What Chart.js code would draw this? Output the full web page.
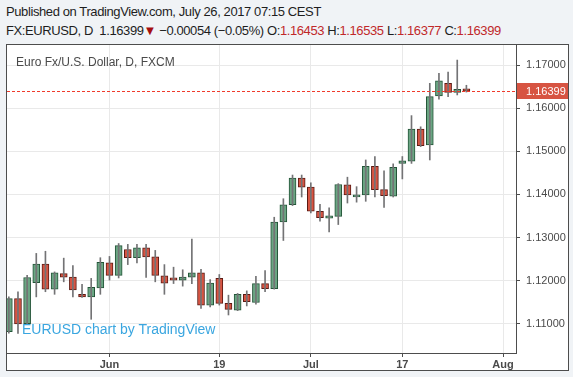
<!DOCTYPE html>
<html>
<head>
<meta charset="utf-8">
<script src="https://cdn.jsdelivr.net/npm/chart.js@4.4.1/dist/chart.umd.min.js"></script>
<style>
  body { margin: 0; width: 573px; height: 377px; background: #f0f3f6; position: relative; overflow: hidden;
         font-family: "Liberation Sans", Arial, sans-serif; }
  .hdr { position: absolute; left: 6px; font-size: 13px; color: #1e1e1e; white-space: nowrap; letter-spacing: -0.4px; }
  #hdr1 { top: 4px; }
  #hdr2 { top: 23px; }
  .red { color: #c0282a; }
  #frame { position: absolute; left: 6px; top: 44px; width: 563px; height: 327px; box-sizing: border-box;
           border: 1px solid #4d4d4d; background: #fff; }
  #frame canvas { display: block; }
  #legend { position: absolute; left: 16px; top: 55px; font-size: 12px; color: #4a4a4a; }
  #brand { position: absolute; left: 22px; top: 321px; font-size: 14px; color: #3aa6e0; }
</style>
</head>
<body>
<div id="hdr1" class="hdr">Published on TradingView.com, July 26, 2017 07:15 CEST</div>
<div id="hdr2" class="hdr">FX:EURUSD, D&nbsp; 1.16399<span style="color:#a50e0e">▼</span> −0.00054 (−0.05%) O:<span class="red">1.16453</span> H:<span class="red">1.16535</span> L:<span class="red">1.16377</span> C:<span class="red">1.16399</span></div>
<div id="frame"><canvas id="myChart" width="561" height="325"></canvas></div>
<div id="legend">Euro Fx/U.S. Dollar, D, FXCM</div>
<div id="brand">EURUSD chart by TradingView</div>
<script>
// trading days, 17 May - 26 Jul 2017
const dates = [
  "May 17", "May 18", "May 19", "May 22", "May 23", "May 24", "May 25", "May 26", "May 29", "May 30", "May 31",
  "Jun 1", "Jun 2", "Jun 5", "Jun 6", "Jun 7", "Jun 8", "Jun 9", "Jun 12", "Jun 13", "Jun 14", "Jun 15", "Jun 16",
  "Jun 19", "Jun 20", "Jun 21", "Jun 22", "Jun 23", "Jun 26", "Jun 27", "Jun 28", "Jun 29", "Jun 30",
  "Jul 3", "Jul 4", "Jul 5", "Jul 6", "Jul 7", "Jul 10", "Jul 11", "Jul 12", "Jul 13", "Jul 14",
  "Jul 17", "Jul 18", "Jul 19", "Jul 20", "Jul 21", "Jul 24", "Jul 25", "Jul 26",
];
const open = [
  1.1081, 1.1158, 1.1100, 1.1195, 1.1238, 1.1180, 1.1216, 1.1208, 1.1168, 1.1162, 1.1183,
  1.1241, 1.1212, 1.1272, 1.1253, 1.1276, 1.1255, 1.1211, 1.1206, 1.1201, 1.1208, 1.1218, 1.1143,
  1.1205, 1.1147, 1.1131, 1.1168, 1.1149, 1.1193, 1.1181, 1.1336, 1.1376, 1.1438,
  1.1417, 1.1361, 1.1345, 1.1349, 1.1422, 1.1394, 1.1399, 1.1465, 1.1411, 1.1396,
  1.1472, 1.1477, 1.1552, 1.1515, 1.1629, 1.1658, 1.1637, 1.16453,
];
const high = [
  1.1162, 1.1174, 1.1212, 1.1263, 1.1268, 1.1220, 1.1252, 1.1235, 1.1191, 1.1205, 1.1253,
  1.1256, 1.1286, 1.1284, 1.1284, 1.1284, 1.1270, 1.1237, 1.1231, 1.1225, 1.1296, 1.1226, 1.1202,
  1.1214, 1.1166, 1.1170, 1.1176, 1.1210, 1.1223, 1.1347, 1.1390, 1.1445, 1.1445,
  1.1427, 1.1377, 1.1369, 1.1425, 1.1440, 1.1418, 1.1480, 1.1488, 1.1455, 1.1471,
  1.1488, 1.1583, 1.1557, 1.1658, 1.1681, 1.1684, 1.1712, 1.16535,
];
const low = [
  1.1078, 1.1077, 1.1099, 1.1162, 1.1174, 1.1168, 1.1197, 1.1162, 1.1161, 1.1110, 1.1168,
  1.1201, 1.1206, 1.1237, 1.1241, 1.1207, 1.1197, 1.1168, 1.1193, 1.1187, 1.1193, 1.1135, 1.1139,
  1.1143, 1.1120, 1.1130, 1.1141, 1.1145, 1.1174, 1.1180, 1.1293, 1.1374, 1.1394,
  1.1357, 1.1338, 1.1313, 1.1330, 1.1380, 1.1382, 1.1384, 1.1394, 1.1370, 1.1394,
  1.1436, 1.1472, 1.1511, 1.1480, 1.1621, 1.1627, 1.1631, 1.16377,
];
const close = [
  1.1158, 1.1099, 1.1207, 1.1238, 1.1180, 1.1218, 1.1208, 1.1178, 1.1162, 1.1184, 1.1242,
  1.1212, 1.1281, 1.1253, 1.1276, 1.1255, 1.1212, 1.1194, 1.1201, 1.1208, 1.1218, 1.1143, 1.1194,
  1.1147, 1.1133, 1.1168, 1.1151, 1.1193, 1.1181, 1.1336, 1.1376, 1.1438, 1.1417,
  1.1361, 1.1346, 1.1350, 1.1423, 1.1399, 1.1399, 1.1465, 1.1411, 1.1397, 1.1463,
  1.1478, 1.1552, 1.1513, 1.1627, 1.1664, 1.1637, 1.1644, 1.16399,
];
// x ticks: Jun 1, Jun 19, Jul 3, Jul 17, Aug 1 (bar index)
const xTickIdx = [11, 23, 33, 43, 54];
const xTickLabels = ["Jun", "19", "Jul", "17", "Aug"];
const yTicks = [1.11, 1.12, 1.13, 1.14, 1.15, 1.16, 1.17];

const upFill = "#6ba583", upLine = "#225437";
const downFill = "#d75442", downLine = "#5b1a13";
const isUp = (i) => close[i] >= open[i];
const lastClose = close[close.length - 1];

const lastPrice = {
  id: "lastPrice",
  afterDatasetsDraw(chart) {
    const { ctx, chartArea, scales } = chart;
    const y = Math.round(scales.y.getPixelForValue(lastClose)) + 0.5;
    ctx.save();
    ctx.strokeStyle = "#ef3b2c";
    ctx.lineWidth = 1;
    ctx.setLineDash([3, 2]);
    ctx.beginPath();
    ctx.moveTo(chartArea.left, y);
    ctx.lineTo(chartArea.right, y);
    ctx.stroke();
    ctx.setLineDash([]);
    ctx.fillStyle = "#d75442";
    ctx.fillRect(chartArea.right + 1, y - 8.5, chart.width - chartArea.right - 1, 16);
    ctx.fillStyle = "#fff";
    ctx.font = "11px 'Liberation Sans', Arial";
    ctx.textBaseline = "middle";
    ctx.fillText(lastClose.toFixed(5), chartArea.right + 10, y);
    ctx.restore();
  },
};

const ctx = document.getElementById("myChart");
new Chart(ctx, {
  type: "bar",
  data: {
    datasets: [
      {
        label: "wick",
        data: dates.map((d, i) => ({ x: i, y: [low[i], high[i]] })),
        backgroundColor: "#737375",
        barThickness: 1,
        grouped: false,
      },
      {
        label: "EURUSD",
        data: dates.map((d, i) => ({ x: i, y: [open[i], close[i]] })),
        backgroundColor: (c) => (isUp(c.dataIndex) ? upFill : downFill),
        borderColor: (c) => (isUp(c.dataIndex) ? upLine : downLine),
        borderWidth: 1,
        borderSkipped: false,
        barThickness: 7,
        minBarLength: 1,
        grouped: false,
      },
    ],
  },
  options: {
    responsive: false,
    animation: false,
    layout: { padding: 0 },
    plugins: { legend: { display: false }, tooltip: { enabled: false } },
    scales: {
      x: {
        type: "linear",
        offset: false,
        min: -0.2,
        max: 55.42,
        afterBuildTicks: (axis) => {
          axis.ticks = xTickIdx.map((v) => ({ value: v }));
        },
        afterFit: (scale) => {
          scale.height = 17;
          scale.paddingLeft = 0;
          scale.paddingRight = 0;
        },
        ticks: {
          autoSkip: false,
          maxRotation: 0,
          padding: 1,
          color: "#4a4a4a",
          font: { family: "'Liberation Sans', Arial", size: 11, weight: "bold" },
          callback: (v) => xTickLabels[xTickIdx.indexOf(v)],
        },
        grid: { offset: false, color: "#e9e9e9", tickColor: "#4d4d4d", tickLength: 4 },
        border: { color: "#4d4d4d" },
      },
      y: {
        position: "right",
        min: 1.10317,
        max: 1.1747,
        afterBuildTicks: (axis) => {
          axis.ticks = yTicks.map((v) => ({ value: v }));
        },
        afterFit: (scale) => {
          scale.width = 52;
          scale.paddingTop = 0;
          scale.paddingBottom = 0;
        },
        ticks: {
          padding: 6,
          color: "#4a4a4a",
          font: { family: "'Liberation Sans', Arial", size: 11 },
          callback: (v) => v.toFixed(5),
        },
        grid: { color: "#e9e9e9", tickColor: "#4d4d4d", tickLength: 4 },
        border: { color: "#4d4d4d" },
      },
    },
  },
  plugins: [lastPrice],
});
</script>
</body>
</html>
